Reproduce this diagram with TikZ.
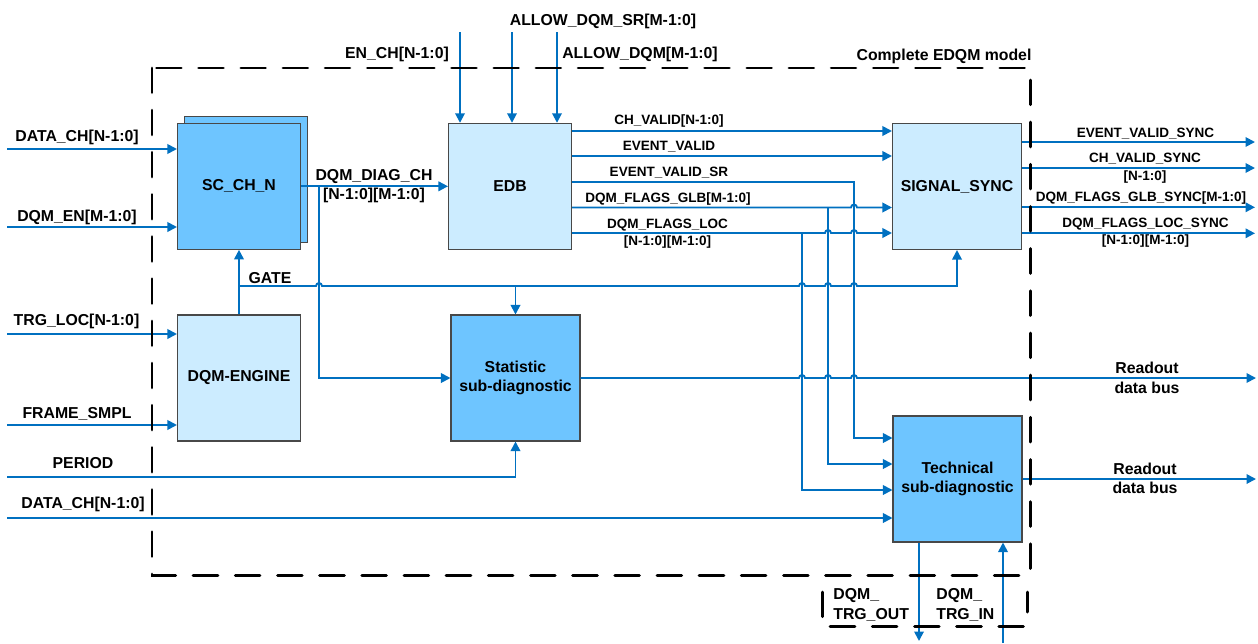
\documentclass[tikz,border=0pt]{standalone}
\usepackage{fontspec}
\setmainfont{Liberation Sans}
\usetikzlibrary{arrows.meta, positioning}

\definecolor{wireblue}{RGB}{0,112,192}
\definecolor{boxlight}{RGB}{204,236,255}
\definecolor{boxdark}{RGB}{110,197,255}
\definecolor{boxline}{RGB}{72,72,72}

% small bump where a horizontal wire crosses a vertical one
\newcommand{\jump}[2]{-- ({#1-3},#2) arc[start angle=180, end angle=0, radius=3]}

\begin{document}
\begin{tikzpicture}[
  x=0.02cm, y=0.02cm,
  font=\fontsize{9}{11}\selectfont\bfseries,
  block/.style={draw=boxline, line width=0.6pt, align=center, inner sep=0pt, minimum width=2.46cm, minimum height=2.52cm},
  lightblock/.style={block, fill=boxlight},
  darkblock/.style={block, fill=boxdark},
  wideblock/.style={minimum width=2.58cm},
  lbl/.style={inner sep=0pt, align=center},
  siglbl/.style={lbl, font=\fontsize{7.7}{10}\selectfont\bfseries},
  wire/.style={color=wireblue, line width=1.05pt, -{Triangle[length=1.9mm, width=1.9mm]}},
  modelframe/.style={line width=1.7pt, line cap=round, dash pattern=on 14pt off 10pt}
]
\useasboundingbox (0,0) rectangle (1258,-643);

% blocks
\node[darkblock] (scback) at (246,-179.3) {};
\node[darkblock] (sc) at (239,-186.3) {SC\_CH\_N};
\node[lightblock] (edb) at (510,-186.3) {EDB};
\node[lightblock, wideblock] (sync) at (957,-186.5) {SIGNAL\_SYNC};
\node[lightblock] (engine) at (239,-378) {DQM-ENGINE};
\node[darkblock, wideblock] (stat) at (515.5,-378) {Statistic\\sub-diagnostic};
\node[darkblock, wideblock] (tech) at (957.5,-479) {Technical\\sub-diagnostic};

% free ends and levels
\coordinate (datain) at (7,-149);
\coordinate (enin) at (7,-227);
\coordinate (trgloc) at (7,-334);
\coordinate (frmin) at (7,-425);
\coordinate (perin) at (7,-477);
\coordinate (data2in) at (7,-518);
\coordinate (ench) at (460,-32);
\coordinate (allowsr) at (512,-32);
\coordinate (allow) at (557,-32);
\coordinate (chv) at (0,-131);
\coordinate (evv) at (0,-156);
\coordinate (evsr) at (0,-182);
\coordinate (glb) at (0,-207.5);
\coordinate (loc) at (0,-233);
\coordinate (srin) at (0,-438);
\coordinate (glbin) at (0,-464);
\coordinate (locin) at (0,-490);
\coordinate (srdrop) at (854,-182);
\coordinate (glbdrop) at (828,-207.5);
\coordinate (locdrop) at (802,-233);
\coordinate (diagtap) at (319,-186.3);
\coordinate (gatetap) at (239,-286);
\coordinate (evsyncout) at (1255,-142);
\coordinate (chsyncout) at (1255,-168);
\coordinate (glbsyncout) at (1255,-207.3);
\coordinate (locsyncout) at (1255,-233.3);
\coordinate (readout1) at (1256,-378);
\coordinate (readout2) at (1256,-479);
\coordinate (trgout) at (919,-641);
\coordinate (trgin) at (1003,-643);

% left inputs
\draw[wire] (datain) -- (datain -| sc.west);
\draw[wire] (enin) -- (enin -| sc.west);
\draw[wire] (trgloc) -- (trgloc -| engine.west);
\draw[wire] (frmin) -- (frmin -| engine.west);
\draw[wire] (perin) -| (stat.south);
\draw[wire] (data2in) -- (data2in -| tech.west);

% top inputs
\draw[wire] (ench) -- (ench |- edb.north);
\draw[wire] (allowsr) -- (allowsr |- edb.north);
\draw[wire] (allow) -- (allow |- edb.north);

% diag and gate
\draw[wire] (sc.east) -- (edb.west);
\draw[wire] (diagtap) |- (stat.west);
\draw[wire] (engine.north) -- (sc.south);
\draw[wire] (gatetap) \jump{319}{-286} \jump{802}{-286} \jump{828}{-286} \jump{854}{-286} -| (sync.south);
\draw[wire] (stat.north |- gatetap) -- (stat.north);

% EDB outputs
\draw[wire] (edb.east |- chv) -- (sync.west |- chv);
\draw[wire] (edb.east |- evv) -- (sync.west |- evv);
\draw[wire] (edb.east |- evsr) -- (srdrop) |- (tech.west |- srin);
\draw[wire] (edb.east |- glb) \jump{854}{-207.5} -- (sync.west |- glb);
\draw[wire] (glbdrop) |- (tech.west |- glbin);
\draw[wire] (edb.east |- loc) \jump{828}{-233} \jump{854}{-233} -- (sync.west |- loc);
\draw[wire] (locdrop) |- (tech.west |- locin);

% readout
\draw[wire] (stat.east) \jump{802}{-378} \jump{828}{-378} \jump{854}{-378} -- (readout1);
\draw[wire] (tech.east) -- (readout2);

% sync outputs
\draw[wire] (sync.east |- evsyncout) -- (evsyncout);
\draw[wire] (sync.east |- chsyncout) -- (chsyncout);
\draw[wire] (sync.east |- glbsyncout) -- (glbsyncout);
\draw[wire] (sync.east |- locsyncout) -- (locsyncout);

% trigger lines
\draw[wire] (tech.south -| trgout) -- (trgout);
\draw[wire] (trgin) -- (tech.south -| trgin);

% frames
\draw[modelframe] (152,-68) rectangle (1030,-575);
\draw[modelframe] (822,-592) -- (822,-626) -- (1027,-626) -- (1027,-592);

% labels
\node[lbl] (datalbl) at (77,-137) {DATA\_CH[N-1:0]};
\node[lbl] (enlbl) at (77,-217) {DQM\_EN[M-1:0]};
\node[lbl] (trglbl) at (76.5,-321) {TRG\_LOC[N-1:0]};
\node[lbl] (frmlbl) at (77,-414) {FRAME\_SMPL};
\node[lbl] (perlbl) at (83,-463) {PERIOD};
\node[lbl] (data2lbl) at (83,-504) {DATA\_CH[N-1:0]};
\node[lbl] (enchlbl) at (397,-54) {EN\_CH[N-1:0]};
\node[lbl] (allowsrlbl) at (603,-21) {ALLOW\_DQM\_SR[M-1:0]};
\node[lbl] (allowlbl) at (640,-54) {ALLOW\_DQM[M-1:0]};
\node[lbl] (modellbl) at (944,-56) {Complete EDQM model};
\node[lbl] (diaglbl) at (374,-186) {DQM\_DIAG\_CH\\{}[N-1:0][M-1:0]};
\node[lbl] (gatelbl) at (270,-278) {GATE};
\node[siglbl] (chvlbl) at (669,-121) {CH\_VALID[N-1:0]};
\node[siglbl] (evvlbl) at (669,-147) {EVENT\_VALID};
\node[siglbl] (evsrlbl) at (669,-173) {EVENT\_VALID\_SR};
\node[siglbl] (glblbl) at (668,-199.3) {DQM\_FLAGS\_GLB[M-1:0]};
\node[siglbl] (loclbl) at (667.5,-233.5) {DQM\_FLAGS\_LOC\\{}[N-1:0][M-1:0]};
\node[siglbl] (evsynclbl) at (1145.5,-133.3) {EVENT\_VALID\_SYNC};
\node[siglbl] (chsynclbl) at (1145,-168) {CH\_VALID\_SYNC\\{}[N-1:0]};
\node[siglbl] (glbsynclbl) at (1141,-198.3) {DQM\_FLAGS\_GLB\_SYNC[M-1:0]};
\node[siglbl] (locsynclbl) at (1145.5,-232.7) {DQM\_FLAGS\_LOC\_SYNC\\{}[N-1:0][M-1:0]};
\node[lbl] (readlbl1) at (1147,-378) {Readout\\data bus};
\node[lbl] (readlbl2) at (1145,-478.5) {Readout\\data bus};
\node[lbl, align=left, anchor=west] (trgoutlbl) at (833,-605) {DQM\_\\TRG\_OUT};
\node[lbl, align=left, anchor=west] (trginlbl) at (936,-605) {DQM\_\\TRG\_IN};
\end{tikzpicture}
\end{document}
